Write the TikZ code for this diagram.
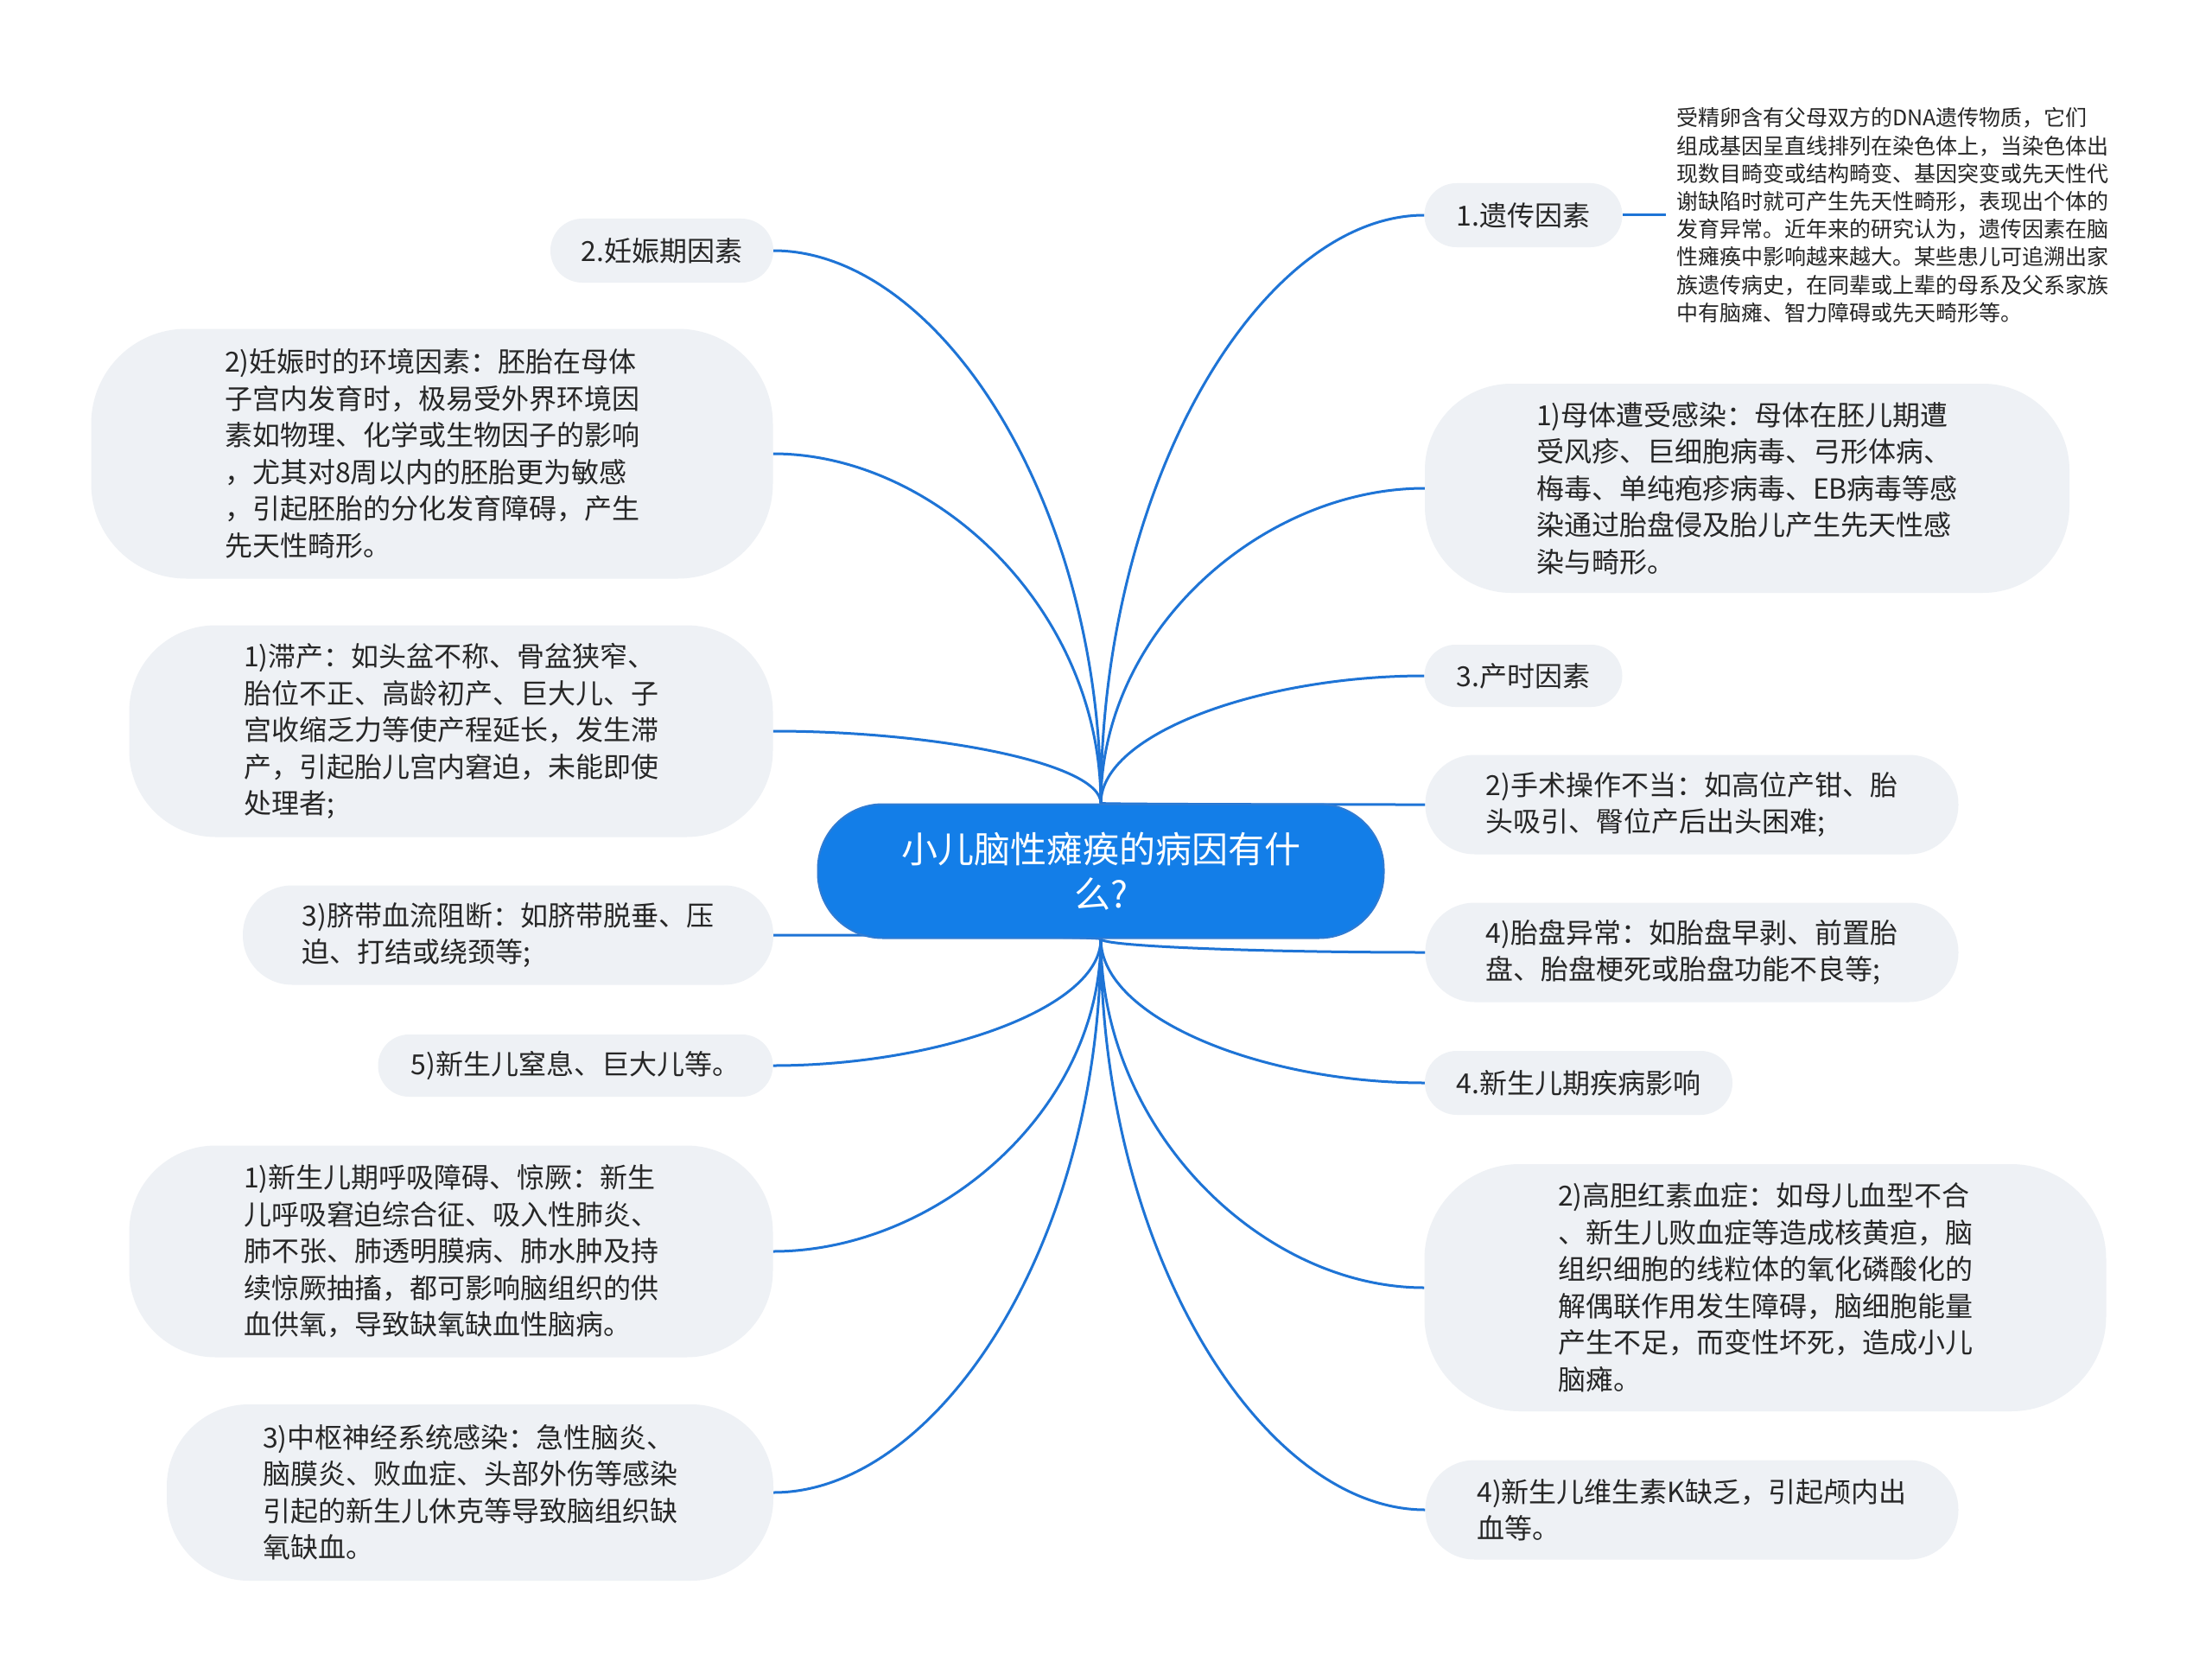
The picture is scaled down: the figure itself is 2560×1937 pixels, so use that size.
\documentclass[tikz,border=0pt]{standalone}
\usepackage{fontspec}
\setmainfont{Noto Sans CJK SC}
\usetikzlibrary{calc}
\definecolor{boxfill}{HTML}{EEF1F5}
\definecolor{rootfill}{HTML}{137EE8}
\definecolor{rootline}{HTML}{2F7BD3}
\definecolor{conncol}{HTML}{1E74D6}
\definecolor{txt}{HTML}{262626}
\pgfdeclarelayer{back}
\pgfdeclarelayer{bg}
\pgfsetlayers{back,bg,main}
\begin{document}
\begin{tikzpicture}[x=1pt,y=-1pt,
  sub/.style={fill=boxfill, text=txt, align=left, inner sep=0pt, rounded corners=#1, font=\fontsize{32}{42.5}\selectfont},
  rootbox/.style={fill=rootfill, draw=rootline, line width=2pt, text=white, align=center, inner sep=0pt, rounded corners=75pt, font=\fontsize{42}{52}\selectfont},
  small/.style={text=txt, align=left, inner sep=12pt, font=\fontsize{25}{32.2}\selectfont},
  conn/.style={draw=conncol, line width=3pt},
]
\useasboundingbox (0,0) rectangle (2560,1937);
\begin{pgfonlayer}{back}
\fill[white] (0,0) rectangle (2560,1937);
\end{pgfonlayer}

\node[rootbox, minimum width=655pt, minimum height=155pt] (root) at (1274,1008) {小儿脑性瘫痪的病因有什\\么?};
\coordinate (rt) at (root.north);
\coordinate (rb) at (root.south);

% right side
\node[sub=37pt, minimum width=229pt, minimum height=74pt] (r1) at (1763,249) {1.遗传因素};
\node[small, anchor=west] (gen) at (1928,249) {受精卵含有父母双方的DNA遗传物质，它们\\组成基因呈直线排列在染色体上，当染色体出\\现数目畸变或结构畸变、基因突变或先天性代\\谢缺陷时就可产生先天性畸形，表现出个体的\\发育异常。近年来的研究认为，遗传因素在脑\\性瘫痪中影响越来越大。某些患儿可追溯出家\\族遗传病史，在同辈或上辈的母系及父系家族\\中有脑瘫、智力障碍或先天畸形等。};
\node[sub=100pt, minimum width=746pt, minimum height=242pt] (r2) at (2022,565) {1)母体遭受感染：母体在胚儿期遭\\受风疹、巨细胞病毒、弓形体病、\\梅毒、单纯疱疹病毒、EB病毒等感\\染通过胎盘侵及胎儿产生先天性感\\染与畸形。};
\node[sub=36pt, minimum width=229pt, minimum height=72pt] (r3) at (1763,782) {3.产时因素};
\node[sub=57pt, minimum width=617pt, minimum height=115pt] (r4) at (1958,931) {2)手术操作不当：如高位产钳、胎\\头吸引、臀位产后出头困难;};
\node[sub=57pt, minimum width=617pt, minimum height=115pt] (r5) at (1958,1102) {4)胎盘异常：如胎盘早剥、前置胎\\盘、胎盘梗死或胎盘功能不良等;};
\node[sub=37pt, minimum width=356pt, minimum height=74pt] (r6) at (1827,1253) {4.新生儿期疾病影响};
\node[sub=110pt, minimum width=789pt, minimum height=286pt] (r7) at (2043,1490) {2)高胆红素血症：如母儿血型不合\\、新生儿败血症等造成核黄疸，脑\\组织细胞的线粒体的氧化磷酸化的\\解偶联作用发生障碍，脑细胞能量\\产生不足，而变性坏死，造成小儿\\脑瘫。};
\node[sub=57pt, minimum width=617pt, minimum height=115pt] (r8) at (1958,1747) {4)新生儿维生素K缺乏，引起颅内出\\血等。};

% left side
\node[sub=37pt, minimum width=258pt, minimum height=74pt] (l1) at (766,290) {2.妊娠期因素};
\node[sub=110pt, minimum width=789pt, minimum height=289pt] (l2) at (500,525) {2)妊娠时的环境因素：胚胎在母体\\子宫内发育时，极易受外界环境因\\素如物理、化学或生物因子的影响\\，尤其对8周以内的胚胎更为敏感\\，引起胚胎的分化发育障碍，产生\\先天性畸形。};
\node[sub=100pt, minimum width=745pt, minimum height=245pt] (l3) at (522,846) {1)滞产：如头盆不称、骨盆狭窄、\\胎位不正、高龄初产、巨大儿、子\\宫收缩乏力等使产程延长，发生滞\\产，引起胎儿宫内窘迫，未能即使\\处理者;};
\node[sub=57pt, minimum width=614pt, minimum height=115pt] (l4) at (588,1082) {3)脐带血流阻断：如脐带脱垂、压\\迫、打结或绕颈等;};
\node[sub=36pt, minimum width=457pt, minimum height=72pt] (l5) at (666,1233) {5)新生儿窒息、巨大儿等。};
\node[sub=100pt, minimum width=745pt, minimum height=245pt] (l6) at (522,1448) {1)新生儿期呼吸障碍、惊厥：新生\\儿呼吸窘迫综合征、吸入性肺炎、\\肺不张、肺透明膜病、肺水肿及持\\续惊厥抽搐，都可影响脑组织的供\\血供氧，导致缺氧缺血性脑病。};
\node[sub=95pt, minimum width=702pt, minimum height=204pt] (l7) at (544,1727) {3)中枢神经系统感染：急性脑炎、\\脑膜炎、败血症、头部外伤等感染\\引起的新生儿休克等导致脑组织缺\\氧缺血。};

\begin{pgfonlayer}{bg}
\foreach \n/\a/\o in {r1/west/rt, r2/west/rt, r3/west/rt, r4/west/rt, r5/west/rb, r6/west/rb, r7/west/rb, r8/west/rb,
                      l1/east/rt, l2/east/rt, l3/east/rt, l4/east/rb, l5/east/rb, l6/east/rb, l7/east/rb}
  \draw[conn] (\o) .. controls ($(\o)!0.55!(\o |- \n.\a)$) and ($(\o |- \n.\a)!0.5!(\n.\a)$) .. (\n.\a);
\draw[conn] (r1.east) -- (gen.west);
\end{pgfonlayer}
\end{tikzpicture}
\end{document}
